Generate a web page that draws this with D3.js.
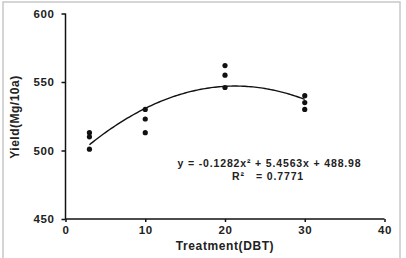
<!doctype html>
<html>
<head>
<script type='text/javascript' src='https://d3js.org/d3.v7.min.js'></script>
<style>
body { margin: 0; background: #fff; }
text { font-family: Arial, "Liberation Sans", sans-serif; font-weight: bold; fill: #222; white-space: pre; }
</style>
</head>
<body>
<script>
var width = 406, height = 258;

// data
var treatX = [3, 3, 3, 10, 10, 10, 20, 20, 20, 30, 30, 30];
var yieldY = [513, 510, 501, 530, 523, 513, 562, 555, 546, 540, 535, 530];
var xTicks = [0, 10, 20, 30, 40];
var yTicks = [450, 500, 550, 600];
// trend line coefficients as printed (a, b, c)
var coef = [-0.1282, 5.4563, 488.98];
var trendRange = [3, 30];
var eqLabel = 'y = -0.1282x\u00B2 + 5.4563x + 488.98';
var r2Label = 'R\u00B2   = 0.7771';

var svg = d3.select('body').append('svg').attr('width', width).attr('height', height);

// outer frame
svg.append('rect').attr('x', 3).attr('y', 2).attr('width', 397).attr('height', 270)
 .attr('fill', 'none').attr('stroke', '#c8c8c8').attr('stroke-width', 1.5);

var x = d3.scaleLinear().domain([0, 40]).range([65.5, 384.5]);
var y = d3.scaleLinear().domain([450, 600]).range([219, 13.5]);

var xAxis = svg.append('g').attr('transform', 'translate(0,' + y(450) + ')')
 .call(d3.axisBottom(x).tickValues(xTicks).tickSize(3).tickPadding(4));
var yAxis = svg.append('g').attr('transform', 'translate(' + x(0) + ',0)')
 .call(d3.axisLeft(y).tickValues(yTicks).tickSize(4).tickPadding(7));

[xAxis, yAxis].forEach(function(g) {
 g.selectAll('path,line').attr('stroke', '#111').attr('stroke-width', 1.5);
 g.selectAll('text').style('font-size', '11.5px').style('letter-spacing', '0.6px').attr('fill', '#222');
});
xAxis.select('.domain').attr('d', 'M' + x(0) + ',0H' + x(40));
yAxis.select('.domain').attr('d', 'M0,' + y(600) + 'V' + y(450));

// trend line
var curvePts = d3.range(trendRange[0], trendRange[1] + 0.01, 0.25).map(function(t) {
 return [t, coef[0] * t * t + coef[1] * t + coef[2]];
});
svg.append('path').datum(curvePts)
 .attr('fill', 'none').attr('stroke', '#111').attr('stroke-width', 1.4)
 .attr('d', d3.line().x(function(d){return x(d[0])}).y(function(d){return y(d[1])}));

// points
svg.selectAll('circle.pt').data(treatX).join('circle')
 .attr('class', 'pt')
 .attr('cx', function(d){return x(d)})
 .attr('cy', function(d, i){return y(yieldY[i])})
 .attr('r', 2.6).attr('fill', '#111');

// equation
svg.append('text').attr('x', 269.5).attr('y', 167).attr('text-anchor', 'middle')
 .style('font-size', '10.5px').style('letter-spacing', '0.85px').text(eqLabel);
svg.append('text').attr('x', 268).attr('y', 180).attr('text-anchor', 'middle')
 .style('font-size', '10.5px').style('letter-spacing', '0.85px').text(r2Label);

// axis titles
svg.append('text').attr('x', 225).attr('y', 250).attr('text-anchor', 'middle')
 .style('font-size', '12px').style('letter-spacing', '0.6px').text('Treatment(DBT)');
svg.append('text').attr('transform', 'translate(19,117) rotate(-90)').attr('text-anchor', 'middle')
 .style('font-size', '12px').style('letter-spacing', '0.5px').text('Yield(Mg/10a)');
</script>
</body>
</html>
